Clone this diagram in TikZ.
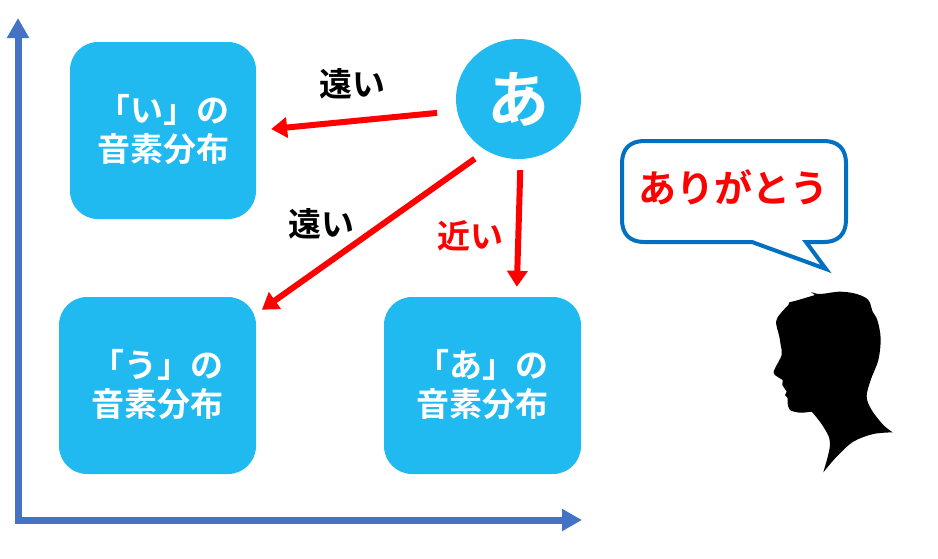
\documentclass[tikz,border=0pt]{standalone}
\usepackage{fontspec}
\setmainfont{Noto Sans CJK JP}[BoldFont={* Bold}]
\usetikzlibrary{arrows.meta,shapes.geometric}
\definecolor{boxblue}{HTML}{20BAF0}
\definecolor{axisblue}{HTML}{4472C4}
\definecolor{calloutblue}{HTML}{0070C0}
\tikzset{
  phonebox/.style={fill=boxblue,rounded corners=28pt,text=white,align=center,font=\fontsize{33}{42}\selectfont\bfseries,inner sep=0pt},
  axisline/.style={draw=axisblue,line width=7pt,{Triangle[length=20pt,width=21pt]}-{Triangle[length=20pt,width=21pt]}},
  redarrow/.style={draw=red,line width=6pt,-{Triangle[length=16pt,width=20pt]}},
  distlabel/.style={font=\fontsize{33}{36}\selectfont\bfseries,inner sep=0pt},
  bubble/.style={draw=calloutblue,line width=4pt,fill=white,line join=miter},
}
\newcommand{\lowerpad}{\rule[-5pt]{0pt}{1pt}}
\begin{document}
\begin{tikzpicture}[x=1pt,y=-1pt]
\useasboundingbox (0,0) rectangle (938,558);
% axes
\coordinate (ytip) at (18,18);
\coordinate (origin) at (18,520);
\coordinate (xtip) at (582,520);
\draw[axisline] (ytip) -- (origin) -- (xtip);
% boxes
\node[phonebox,minimum width=186pt,minimum height=177pt] (iBox) at (163,130.5) {「い」の\\[-3pt]音素分布\lowerpad};
\node[phonebox,minimum width=197pt,minimum height=177pt] (uBox) at (157.5,385.5) {「う」の\\[-3pt]音素分布\lowerpad};
\node[phonebox,minimum width=197pt,minimum height=177pt] (aBox) at (482.5,385.5) {「あ」の\\[-3pt]音素分布\lowerpad};
\node[ellipse,fill=boxblue,minimum width=125pt,minimum height=120pt,inner sep=0pt,text=white,font=\fontsize{62}{62}\selectfont\bfseries] (ah) at (518.5,99) {あ};
% arrows
\draw[redarrow,shorten <=20pt,shorten >=15pt] (ah.191.7) -- (iBox.east);
\draw[redarrow,shorten <=14pt,shorten >=7pt] (ah.238.5) -- (uBox.36.4);
\draw[redarrow,shorten <=11pt,shorten >=10pt] (ah.272.3) -- (aBox.69.4);
% labels
\node[distlabel] (farA) at (352,84) {遠い};
\node[distlabel] (farB) at (321,224) {遠い};
\node[distlabel,text=red] (nearA) at (470,236) {近い};
% callout
\draw[bubble] (644,141) -- (824,141)
  .. controls (838,141) and (846,149) .. (846,163)
  -- (846,220) .. controls (846,234) and (838,242) .. (824,242)
  -- (806,242) -- (826,269) -- (752,242) -- (644,242)
  .. controls (630,242) and (622,234) .. (622,220)
  -- (622,163) .. controls (622,149) and (630,141) .. (644,141) -- cycle;
\node[font=\fontsize{38}{40}\selectfont\bfseries,text=red,inner sep=0pt] (thanks) at (733,187) {ありがとう};
% silhouette
\begin{scope}[shift={(740,270)},x=0.33333pt,y=-0.33333pt]
\fill[black]
  plot[smooth,tension=0.55] coordinates {(213,66) (240,72) (300,65) (350,72) (385,90) (398,125) (412,150) (422,205) (415,270) (392,330) (380,380) (395,420) (430,465) (458,487)}
  -- plot[smooth,tension=0.55] coordinates {(458,487) (400,492) (340,515) (290,560) (250,607)}
  -- plot[smooth,tension=0.55] coordinates {(250,607) (268,540) (268,505) (250,470) (228,440) (215,425)}
  -- plot[smooth,tension=0.55] coordinates {(215,425) (180,428) (150,420) (143,400) (143,385) (135,375)}
  -- (140,365) -- (127,345) -- (128,330)
  -- plot[smooth,tension=0.55] coordinates {(128,330) (102,312) (105,295) (125,255) (122,225) (118,200) (108,155) (122,130) (145,105)}
  -- (148,97) -- plot[smooth,tension=0.55] coordinates {(148,97) (175,90) (225,75)}
  -- cycle;
\end{scope}
\end{tikzpicture}
\end{document}
